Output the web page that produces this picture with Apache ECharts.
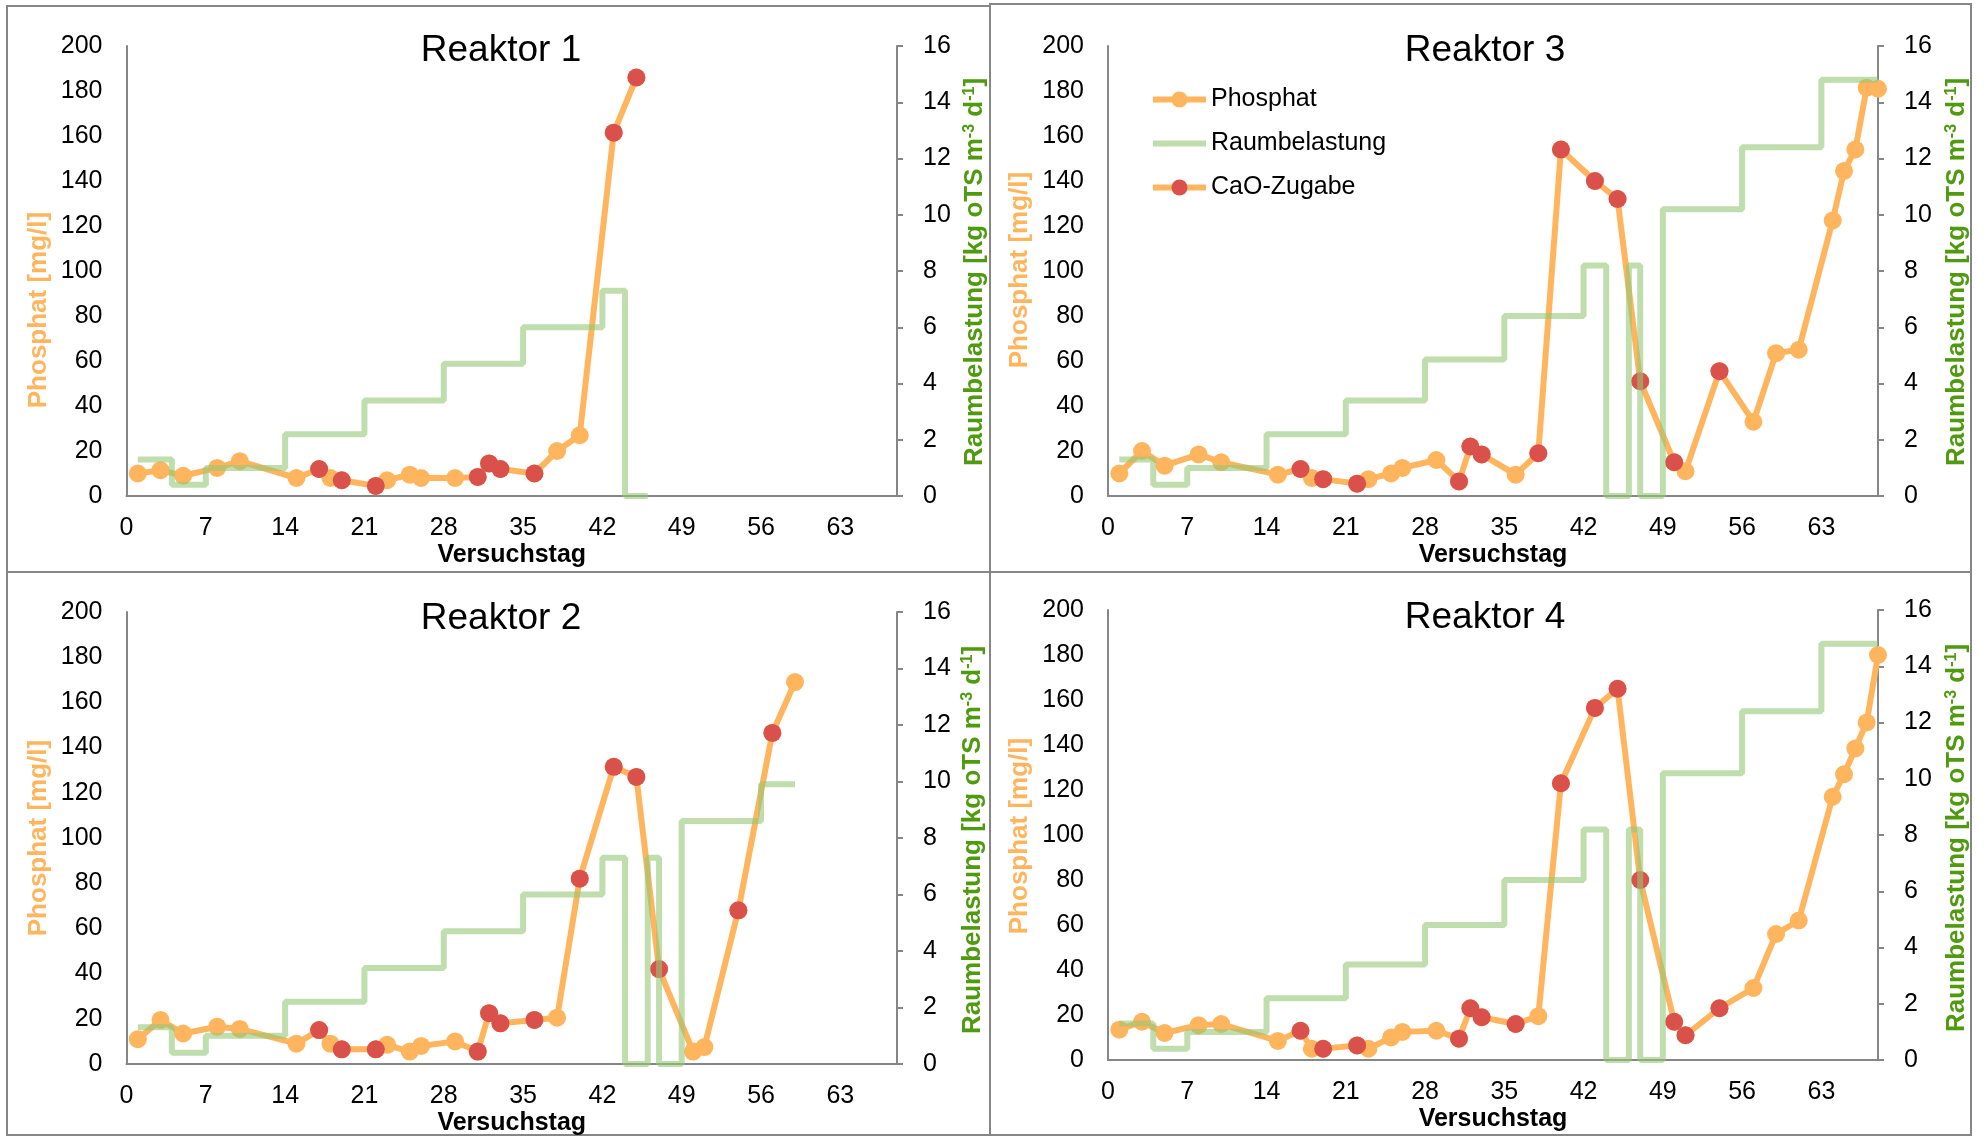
<!DOCTYPE html>
<html>
<head>
<meta charset="utf-8">
<script src="https://cdn.jsdelivr.net/npm/echarts@6/dist/echarts.min.js"></script>
<style>
	html, body { margin: 0; background: #fff; }
	#chart { width: 1984px; height: 1138px; }
</style>
</head>
<body>
<div id="chart"></div>
<script>
	// Reaktor 1
	const r1Tage = [1, 3, 5, 8, 10, 15, 17, 18, 19, 22, 23, 25, 26, 29, 31, 32, 33, 36, 38, 40, 43, 45];
	const r1Phosphat = [10, 11.5, 9, 12.5, 15.5, 8, 12, 8, 7, 4.5, 7, 9.5, 8, 8, 8.5, 14.5, 12, 10, 20, 27, 161.5, 186];
	const r1CaO = [17, 19, 22, 31, 32, 33, 36, 43, 45];
	const r1LastTage = [1, 4, 7, 14, 21, 28, 35, 42, 44, 46];
	const r1Last = [1.3, 0.4, 1.0, 2.2, 3.4, 4.7, 6.0, 7.3, 0, 0];

	// Reaktor 2
	const r2Tage = [1, 3, 5, 8, 10, 15, 17, 18, 19, 22, 23, 25, 26, 29, 31, 32, 33, 36, 38, 40, 43, 45, 47, 50, 51, 54, 57, 59];
	const r2Phosphat = [11, 19.5, 13.5, 16.5, 15.5, 9, 15, 9, 6.5, 6.5, 8.5, 5.5, 8, 10, 5.5, 22.5, 18, 19.5, 20.5, 82, 131.5, 127, 42, 5.5, 7.5, 68, 146.5, 169];
	const r2CaO = [17, 19, 22, 31, 32, 33, 36, 40, 43, 45, 47, 54, 57];
	const r2LastTage = [1, 4, 7, 14, 21, 28, 35, 42, 44, 46, 47, 49, 56, 59];
	const r2Last = [1.3, 0.4, 1.0, 2.2, 3.4, 4.7, 6.0, 7.3, 0, 7.3, 0, 8.6, 9.9, 9.9];

	// Reaktor 3
	const r3Tage = [1, 3, 5, 8, 10, 15, 17, 18, 19, 22, 23, 25, 26, 29, 31, 32, 33, 36, 38, 40, 43, 45, 47, 50, 51, 54, 57, 59, 61, 64, 65, 66, 67, 68];
	const r3Phosphat = [10, 20, 13.5, 18.5, 15, 9.5, 12, 8, 7.5, 5.5, 7.5, 10, 12.5, 16, 6.5, 22, 18.5, 9.5, 19, 154, 140, 132, 51, 15, 11, 55.5, 33, 63.5, 65, 122.5, 144.5, 154, 181.5, 181];
	const r3CaO = [17, 19, 22, 31, 32, 33, 38, 40, 43, 45, 47, 50, 54];
	const r3LastTage = [1, 4, 7, 14, 21, 28, 35, 42, 44, 46, 47, 49, 56, 63, 68];
	const r3Last = [1.3, 0.4, 1.0, 2.2, 3.4, 4.85, 6.4, 8.2, 0, 8.2, 0, 10.2, 12.4, 14.8, 14.8];

	// Reaktor 4
	const r4Tage = [1, 3, 5, 8, 10, 15, 17, 18, 19, 22, 23, 25, 26, 29, 31, 32, 33, 36, 38, 40, 43, 45, 47, 50, 51, 54, 57, 59, 61, 64, 65, 66, 67, 68];
	const r4Phosphat = [13.5, 17, 12, 15.5, 16, 8.5, 13, 5, 5, 6.5, 5, 10, 12.5, 13, 9.5, 23, 19, 16, 19.5, 123, 156.5, 165, 80, 17, 11, 23, 32, 56, 62, 117, 127, 138.5, 150, 180];
	const r4CaO = [17, 19, 22, 31, 32, 33, 36, 40, 43, 45, 47, 50, 51, 54];
	const r4LastTage = [1, 4, 7, 14, 21, 28, 35, 42, 44, 46, 47, 49, 56, 63, 68];
	const r4Last = [1.3, 0.4, 1.0, 2.2, 3.4, 4.8, 6.4, 8.2, 0, 8.2, 0, 10.2, 12.4, 14.8, 14.8];

	const reaktoren = [
		{ titel: "Reaktor 1", tage: r1Tage, phosphat: r1Phosphat, cao: r1CaO, lastTage: r1LastTage, last: r1Last },
		{ titel: "Reaktor 2", tage: r2Tage, phosphat: r2Phosphat, cao: r2CaO, lastTage: r2LastTage, last: r2Last },
		{ titel: "Reaktor 3", tage: r3Tage, phosphat: r3Phosphat, cao: r3CaO, lastTage: r3LastTage, last: r3Last },
		{ titel: "Reaktor 4", tage: r4Tage, phosphat: r4Phosphat, cao: r4CaO, lastTage: r4LastTage, last: r4Last },
	];

	// Lage der vier Diagramme (oben links, unten links, oben rechts, unten rechts)
	const layout = [
		{ left: 126.5, top: 46, width: 770.5, height: 450, box: [7, 6, 983, 566], titleX: 496, titleY: 27, nameL: [39, 310], nameR: [975, 272] },
		{ left: 126.5, top: 612, width: 770.5, height: 452, box: [7, 572, 983, 563], titleX: 496, titleY: 595, nameL: [39, 838], nameR: [973, 840] },
		{ left: 1108, top: 46, width: 770, height: 450, box: [990, 4, 981, 568], titleX: 1480, titleY: 27, nameL: [1020, 270], nameR: [1957, 272] },
		{ left: 1108, top: 610, width: 770, height: 450, box: [990, 572, 981, 563], titleX: 1480, titleY: 594, nameL: [1020, 836], nameR: [1957, 838] },
	];

	const FONT = "'Liberation Sans', Arial, sans-serif";
	const ORANGE = "#FFB55E";
	const RED = "#D9514A";
	const GREEN = "rgba(150, 198, 118, 0.6)";
	const GREEN_TEXT = "#4F9A0F";
	const AXIS = "#868686";

	const chart = echarts.init(document.getElementById("chart"));

	let grid = [], xAxis = [], yAxis = [], series = [], title = [], graphic = [];

	reaktoren.forEach((r, i) => {
		const l = layout[i];
		grid.push({ left: l.left, top: l.top, width: l.width, height: l.height });

		title.push({
			text: r.titel,
			left: l.titleX,
			top: l.titleY,
			textAlign: "center",
			textStyle: { fontSize: 37, fontWeight: "normal", color: "#000", fontFamily: FONT },
		});

		xAxis.push({
			gridIndex: i,
			type: "value",
			min: 0,
			max: 68,
			interval: 7,
			axisLine: { lineStyle: { color: AXIS, width: 2 } },
			axisTick: { show: false },
			splitLine: { show: false },
			axisLabel: { fontSize: 25, color: "#000", margin: 20, fontFamily: FONT, showMaxLabel: false },
			name: "Versuchstag",
			nameLocation: "middle",
			nameGap: 47,
			nameTextStyle: { fontSize: 25, fontWeight: "bold", color: "#000", fontFamily: FONT },
		});

		yAxis.push({
			gridIndex: i,
			type: "value",
			position: "left",
			min: 0,
			max: 200,
			interval: 20,
			axisLine: { show: true, lineStyle: { color: AXIS, width: 2 } },
			axisTick: { show: false },
			splitLine: { show: false },
			axisLabel: { fontSize: 25, color: "#000", margin: 24, fontFamily: FONT },
		});
		yAxis.push({
			gridIndex: i,
			type: "value",
			position: "right",
			min: 0,
			max: 16,
			interval: 2,
			axisLine: { show: true, lineStyle: { color: AXIS, width: 2 } },
			axisTick: { show: true, length: 6, lineStyle: { color: AXIS, width: 2 } },
			splitLine: { show: false },
			axisLabel: { fontSize: 25, color: "#000", margin: 26, fontFamily: FONT },
		});

		series.push({
			name: "Phosphat",
			type: "line",
			xAxisIndex: i,
			yAxisIndex: 2 * i,
			data: r.tage.map((t, k) => [t, r.phosphat[k]]),
			symbol: "circle",
			symbolSize: 18,
			lineStyle: { color: ORANGE, width: 6 },
			itemStyle: { color: ORANGE },
			z: 2,
		});
		series.push({
			name: "CaO-Zugabe",
			type: "line",
			xAxisIndex: i,
			yAxisIndex: 2 * i,
			data: r.tage.map((t, k) => [t, r.phosphat[k]]).filter((p) => r.cao.includes(p[0])),
			symbol: "circle",
			symbolSize: 18,
			lineStyle: { opacity: 0 },
			itemStyle: { color: RED },
			z: 3,
		});
		series.push({
			name: "Raumbelastung",
			type: "line",
			step: "end",
			xAxisIndex: i,
			yAxisIndex: 2 * i + 1,
			data: r.lastTage.map((t, k) => [t, r.last[k]]),
			symbol: "none",
			lineStyle: { color: GREEN, width: 6 },
			itemStyle: { color: GREEN },
			z: 4,
		});

		// Rahmen um jedes Diagramm
		graphic.push({
			type: "rect",
			shape: { x: l.box[0], y: l.box[1], width: l.box[2], height: l.box[3] },
			style: { fill: "none", stroke: AXIS, lineWidth: 2 },
			z: 0,
		});
		// Achsentitel
		graphic.push({
			type: "text",
			x: l.nameL[0],
			y: l.nameL[1],
			rotation: Math.PI / 2,
			style: {
				text: "Phosphat [mg/l]",
				fontSize: 26,
				fontWeight: "bold",
				fontFamily: FONT,
				fill: ORANGE,
				align: "center",
				verticalAlign: "middle",
			},
		});
		graphic.push({
			type: "text",
			x: l.nameR[0],
			y: l.nameR[1],
			rotation: Math.PI / 2,
			style: {
				text: "Raumbelastung [kg oTS m{sup|-3} d{sup|-1}]",
				fontSize: 26,
				fontWeight: "bold",
				fontFamily: FONT,
				fill: GREEN_TEXT,
				align: "center",
				verticalAlign: "middle",
				rich: {
					sup: { fontSize: 16, fontWeight: "bold", fontFamily: FONT, fill: GREEN_TEXT, verticalAlign: "top" },
				},
			},
		});
	});

	const option = {
		backgroundColor: "#fff",
		animation: false,
		title: title,
		legend: {
			data: [
				{ name: "Phosphat", lineStyle: { color: ORANGE, width: 6, opacity: 1 } },
				{ name: "Raumbelastung", lineStyle: { color: GREEN, width: 6, opacity: 1 }, itemStyle: { opacity: 0 } },
				{ name: "CaO-Zugabe", lineStyle: { color: ORANGE, width: 6, opacity: 1 } },
			],
			orient: "vertical",
			left: 1150,
			top: 87,
			padding: 0,
			itemWidth: 53,
			itemHeight: 20,
			itemGap: 19,
			selectedMode: false,
			textStyle: { fontSize: 25, color: "#000", fontFamily: FONT },
		},
		grid: grid,
		xAxis: xAxis,
		yAxis: yAxis,
		series: series,
		graphic: graphic,
	};

	chart.setOption(option);
</script>
</body>
</html>
